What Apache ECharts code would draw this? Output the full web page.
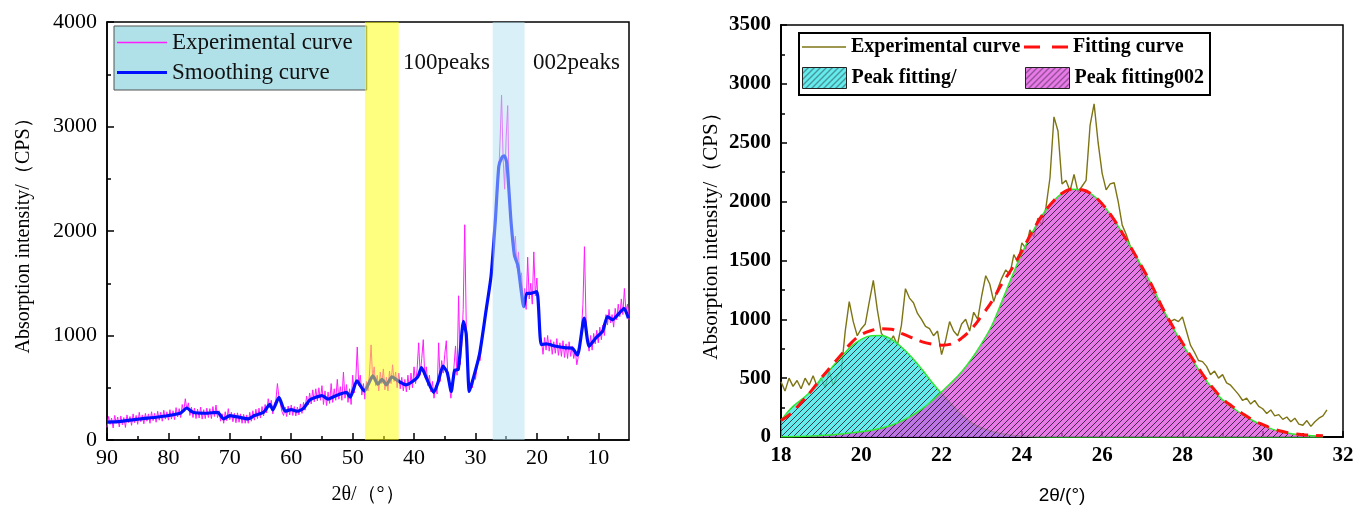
<!DOCTYPE html>
<html>
<head>
<meta charset="utf-8">
<script src="https://cdn.jsdelivr.net/npm/echarts@6/dist/echarts.min.js"></script>
<style>
  html, body { margin: 0; padding: 0; background: #fff; }
  #chart { width: 1367px; height: 510px; }
</style>
</head>
<body>
<div id="chart"></div>
<script>
// ---------- Left panel: full XRD scan (2θ from 90° down to 5°) ----------
// Experimental intensity, sampled every 0.25° starting at 90°
const scanStart = 90;
const scanStep = 0.25;
const scanValues = [
  120,225,150,210, 115,235,160,220, 125,230,145,215, 120,240,165,225, 140,250,165,235,
  150,265,175,240, 155,255,180,250, 160,270,185,255, 170,275,190,265, 180,285,200,270, 190,
  290,200,280,195, 310,220,300,215, 340,270,395,290, 355,235,315,215, 305,205,295,210,
  315,200,290,205, 305,215,300,205, 320,225,335,215, 280,180,250,160, 270,185,300,195,
  265,175,255,165, 260,170,250,160, 245,160,240,160, 265,180,280,190, 295,205,305,210,
  320,230,340,260, 395,310,380,250, 345,380,540,410, 395,270,235,315, 225,325,240,335,
  235,320,230,315, 240,345,255,360, 285,420,335,450, 345,480,365,490, 375,500,380,520,
  340,470,330,460, 350,540,360,490, 380,580,390,510, 380,650,400,530, 360,490,340,620,
  450,560,890,520, 620,430,540,390, 560,470,640,910, 590,700,520,620, 470,650,540,680,
  480,600,470,660, 540,720,560,650, 500,640,490,600, 470,580,460,620, 480,640,500,700,
  540,680,930,620, 780,960,600,700, 520,620,460,560, 400,520,440,930, 560,760,640,820,
  950,600,520,400, 560,700,900,620, 1380,720,900,1250, 2060,1100,780,460, 540,500,640,580,
  700,820,760,920, 1000,1180,1220,1380, 1420,1560,1700,1850, 2050,2300,2500,2850, 3300,2700,2400,2900,
  3200,2300,2150,1900, 1800,1950,1650,1800, 1500,1600,1300,1450, 1250,1750,1350,1500, 1300,1800,1380,1550,
  1250,1000,950,820, 980,860,1000,850, 960,820,940,830, 970,810,930,800, 950,790,920,780,
  940,800,900,780, 860,720,800,900, 1050,1300,1850,1150, 950,850,1000,860, 1020,920,1050,930,
  1080,960,1100,1000, 1200,1100,1250,1120, 1200,1080,1260,1150, 1300,1180,1350,1200, 1450,1230,1300,1150
];

// Smoothed intensity
const smoothX = [90,88,85,82,80,78,77,76,74,72,71,70,68,67,66,64.5,63.5,63,62,61,60,59,58,57,56,55,54,53,52,51,
  50.4,49.3,48.1,46.7,45.9,45.2,44.5,43.6,42.6,41.3,40.5,39.4,38.8,37.9,36.8,36.1,35.3,34.6,33.95,33.4,
  32.8,31.95,31.5,31.0,30.4,29.35,28.3,27.45,26.75,26.2,25.65,25.3,24.9,24.6,24.2,23.65,23.1,22.6,22.15,21.65,
  21.0,20.0,19.3,18.5,16.9,15.25,14.2,13.4,12.3,11.5,10.4,9.3,8.5,7.7,6.6,5.8,5.1];
const smoothY = [171,175,200,218,234,259,306,265,256,265,202,234,212,202,234,265,341,288,408,275,290,275,303,382,408,424,392,417,440,455,
  410,566,468,613,534,581,528,604,566,528,550,604,692,581,455,550,708,645,464,666,
  676,1135,1008,464,581,818,1229,1576,2114,2619,2708,2720,2651,2430,2083,1766,1671,1450,1276,1403,
  1403,1419,913,919,897,882,876,812,1166,897,976,1040,1182,1150,1213,1261,1166];

// Highlighted 2θ ranges
const band100 = [48, 42.5];
const band002 = [27.2, 22];
const leftMajorTicks = [10, 20, 30, 40, 50, 60, 70, 80, 90];
const leftMinorTicks = [15, 25, 35, 45, 55, 65, 75, 85];

// ---------- Right panel: peak fitting between 18° and 32° ----------
const measStart = 18;
const measStep = 0.1;
const measValues = [
  470,390,500,430,480,410,500,440,520,430,
  500,420,560,440,520,560,900,1150,980,860,
  920,960,1150,1330,1080,880,840,800,860,780,
  950,1260,1180,1140,1050,1000,940,920,860,900,
  700,820,980,900,860,960,1000,900,1060,1000,
  1200,1370,1300,1150,1260,1350,1420,1380,1550,1480,
  1650,1600,1760,1700,1860,1800,1950,2200,2720,2600,
  2150,2180,2090,2230,2080,2130,2180,2650,2830,2500,
  2240,2100,2150,2160,2000,1800,1720,1620,1560,1500,
  1380,1340,1250,1200,1140,1080,1020,980,1000,980,
  1020,900,780,720,650,640,600,530,560,500,
  530,460,440,400,360,310,330,280,310,260,
  240,200,230,180,190,150,170,130,160,110,
  100,140,90,130,160,180,230
];

const fitStart = 18;
const fitStep = 0.25;
const peak100 = [
  140,245,315,390, 495,585,680,770, 830,860,862,830, 765,680,580,470, 370,275,190,120,
  76,48,28,15, 8,4,2,0, 0,0,0,0, 0,0,0,0, 0,0,0,0, 0,0,0,0, 0,0,0,0, 0,0,0,0, 0,0,0
];
const peak002 = [
  2,3,5,8, 12,18,25,35, 45,58,75,100, 135,180,235,305, 385,465,555,665,
  795,945,1150,1360, 1560,1730,1880,1990, 2070,2105,2100,2060, 1980,1870,1735,1590, 1440,1280,1100,940,
  790,655,525,410, 315,250,190,140, 100,65,42,26, 16,10,6
];
const fitCurve = [
  140,200,290,390, 500,600,700,800, 870,905,920,915, 880,845,810,790, 780,790,840,920,
  1030,1150,1300,1430, 1580,1740,1880,1990, 2070,2105,2100,2060, 1980,1870,1735,1590, 1440,1280,1100,945,
  800,665,535,420, 325,258,198,145, 105,70,46,30, 20,14,10
];

const legendText = {
  'Measured curve': 'Experimental curve'
};

// ---------- helpers ----------
function sampled(start, step, values) {
  return values.map((v, i) => [+(start + i * step).toFixed(3), v]);
}
function paired(xs, ys) {
  return xs.map((x, i) => [x, ys[i]]);
}
function hatch(fill) {
  const s = 6;
  const c = document.createElement('canvas');
  c.width = s; c.height = s;
  const g = c.getContext('2d');
  g.fillStyle = fill;
  g.fillRect(0, 0, s, s);
  g.strokeStyle = 'rgba(30,20,40,0.8)';
  g.lineWidth = 1;
  g.beginPath();
  g.moveTo(0, s); g.lineTo(s, 0);
  g.moveTo(-1, 1); g.lineTo(1, -1);
  g.moveTo(s - 1, s + 1); g.lineTo(s + 1, s - 1);
  g.stroke();
  return c;
}

const cyanHatch = { image: hatch('rgba(40,228,228,0.72)'), repeat: 'repeat' };
const magentaHatch = { image: hatch('rgba(222,70,222,0.72)'), repeat: 'repeat' };

const serif = 'Liberation Serif, Times New Roman, serif';
const black = '#000';
const plain = v => String(v);

const leftAxisText = { fontFamily: serif, fontSize: 22, color: black, formatter: plain };
const rightAxisText = { fontFamily: serif, fontSize: 21, fontWeight: 'bold', color: black, formatter: plain };
const rightLegendText = { fontFamily: serif, fontSize: 20, fontWeight: 'bold', color: black };

// legend glyphs: plain strokes drawn as thin filled bars
const thinBar = 'path://M0,0H50V1.6H0Z';
const thickBar = 'path://M0,0H50V3.2H0Z';
const oliveBar = 'path://M0,0H42V1.5H0Z';
const dashBar = 'path://M0,0H16V3H0Z M28,0H44V3H28Z';

// one legend entry of the right-hand key
function keyEntry(item, left, top, height) {
  return {
    data: [item], orient: 'horizontal', left, top, selectedMode: false,
    itemWidth: 44, itemHeight: height, padding: 0,
    formatter: n => legendText[n] || n,
    textStyle: rightLegendText
  };
}

const chart = echarts.init(document.getElementById('chart'), null, { renderer: 'canvas' });

chart.setOption({
  animation: false,
  backgroundColor: '#fff',
  grid: [
    { left: 107, top: 22, width: 522, height: 421, show: true, borderColor: black, borderWidth: 1.5, backgroundColor: 'transparent' },
    { left: 781, top: 25, width: 562, height: 414, show: true, borderColor: black, borderWidth: 1.5, backgroundColor: 'transparent' }
  ],
  xAxis: [
    {
      gridIndex: 0, type: 'value', min: 5, max: 90, inverse: true, position: 'bottom',
      axisLine: { onZero: false, lineStyle: { color: black, width: 1.5 } },
      axisTick: { inside: true, length: 7, customValues: leftMajorTicks, lineStyle: { color: black, width: 1.5 } },
      axisLabel: { customValues: leftMajorTicks, margin: 7, ...leftAxisText },
      splitLine: { show: false },
      name: '2θ/（°）', nameLocation: 'middle', nameGap: 45,
      nameTextStyle: { fontFamily: serif, fontSize: 20, color: black }
    },
    {
      gridIndex: 0, type: 'value', min: 5, max: 90, inverse: true, position: 'bottom',
      axisLine: { show: false },
      axisTick: { inside: true, length: 4, customValues: leftMinorTicks, lineStyle: { color: black, width: 1.5 } },
      axisLabel: { show: false },
      splitLine: { show: false }
    },
    {
      gridIndex: 1, type: 'value', min: 18, max: 32, interval: 2, position: 'bottom',
      axisLine: { onZero: false, lineStyle: { color: black, width: 2 } },
      axisTick: { inside: true, length: 6, lineStyle: { color: black, width: 1.5 } },
      minorTick: { show: true, splitNumber: 2, length: 4, lineStyle: { color: black, width: 1.5 } },
      axisLabel: { margin: 8, ...rightAxisText },
      splitLine: { show: false },
      name: '2θ/(°)', nameLocation: 'middle', nameGap: 49,
      nameTextStyle: { fontFamily: 'Liberation Sans, Arial, sans-serif', fontSize: 19, color: black }
    }
  ],
  yAxis: [
    {
      gridIndex: 0, type: 'value', min: 0, max: 4000, interval: 1000,
      axisLine: { show: true, lineStyle: { color: black, width: 1.5 } },
      axisTick: { show: true, inside: true, length: 7, lineStyle: { color: black, width: 1.5 } },
      minorTick: { show: true, splitNumber: 2, length: 4, lineStyle: { color: black, width: 1.5 } },
      axisLabel: { margin: 10, ...leftAxisText },
      splitLine: { show: false },
      name: 'Absorption intensity/（CPS）', nameLocation: 'middle', nameGap: 73,
      nameTextStyle: { fontFamily: serif, fontSize: 20, color: black }
    },
    {
      gridIndex: 1, type: 'value', min: 0, max: 3500, interval: 500,
      axisLine: { show: true, lineStyle: { color: black, width: 2 } },
      axisTick: { show: true, inside: true, length: 6, lineStyle: { color: black, width: 1.5 } },
      minorTick: { show: true, splitNumber: 2, length: 4, lineStyle: { color: black, width: 1.5 } },
      axisLabel: { margin: 10, ...rightAxisText },
      splitLine: { show: false },
      name: 'Absorption intensity/（CPS）', nameLocation: 'middle', nameGap: 59,
      nameTextStyle: { fontFamily: serif, fontSize: 21, color: black }
    }
  ],
  legend: [
    {
      data: [
        { name: 'Experimental curve', icon: thinBar },
        { name: 'Smoothing curve', icon: thickBar }
      ],
      orient: 'vertical', left: 114, top: 26, selectedMode: false,
      itemWidth: 50, itemHeight: 14, itemGap: 7,
      padding: [5, 14, 6, 3],
      backgroundColor: '#b0e0e8', borderColor: '#555', borderWidth: 1,
      textStyle: { fontFamily: serif, fontSize: 23, color: '#111' }
    },
    keyEntry({ name: 'Measured curve', icon: oliveBar }, 802, 37, 14),
    keyEntry({ name: 'Fitting curve', icon: dashBar }, 1024, 37, 14),
    keyEntry({ name: 'Peak fitting/', icon: 'rect', itemStyle: { color: cyanHatch, borderColor: '#222', borderWidth: 1 } }, 802, 67, 21),
    keyEntry({ name: 'Peak fitting002', icon: 'rect', itemStyle: { color: magentaHatch, borderColor: '#222', borderWidth: 1 } }, 1025, 67, 21)
  ],
  graphic: [
    { id: 'lbl100', type: 'text', left: 403, top: 51, z: 20, style: { text: '100peaks', font: '23px ' + serif, fill: '#111' } },
    { id: 'lbl002', type: 'text', left: 533, top: 51, z: 20, style: { text: '002peaks', font: '23px ' + serif, fill: '#111' } },
    { id: 'legendBox', type: 'rect', left: 798, top: 32, z: 3, shape: { width: 411, height: 62 },
      style: { fill: '#fff', stroke: black, lineWidth: 2 } }
  ],
  series: [
    {
      name: 'Experimental curve', type: 'line', xAxisIndex: 0, yAxisIndex: 0, z: 2,
      data: sampled(scanStart, -scanStep, scanValues),
      symbol: 'none', lineStyle: { color: '#ff1cff', width: 1 }, itemStyle: { color: '#ff1cff' }
    },
    {
      name: 'Smoothing curve', type: 'line', xAxisIndex: 0, yAxisIndex: 0, z: 3,
      data: paired(smoothX, smoothY), smooth: 0.2,
      symbol: 'none', lineStyle: { color: '#0010ff', width: 3.2 }, itemStyle: { color: '#0010ff' }
    },
    {
      name: 'Measured curve', type: 'line', xAxisIndex: 2, yAxisIndex: 1, z: 2,
      data: sampled(measStart, measStep, measValues),
      symbol: 'none', lineStyle: { color: '#7d7414', width: 1.4 }, itemStyle: { color: '#7d7414' }
    },
    {
      name: 'Peak fitting/', type: 'line', xAxisIndex: 2, yAxisIndex: 1, z: 3,
      data: sampled(fitStart, fitStep, peak100), smooth: 0.4,
      symbol: 'none', lineStyle: { color: '#30ea30', width: 1.5 }, itemStyle: { color: '#30ea30' },
      areaStyle: { color: cyanHatch, opacity: 1 }
    },
    {
      name: 'Peak fitting002', type: 'line', xAxisIndex: 2, yAxisIndex: 1, z: 4,
      data: sampled(fitStart, fitStep, peak002), smooth: 0.4,
      symbol: 'none', lineStyle: { color: '#30ea30', width: 1.5 }, itemStyle: { color: '#30ea30' },
      areaStyle: { color: magentaHatch, opacity: 1 }
    },
    {
      name: 'Fitting curve', type: 'line', xAxisIndex: 2, yAxisIndex: 1, z: 5,
      data: sampled(fitStart, fitStep, fitCurve), smooth: 0.4,
      symbol: 'none', lineStyle: { color: '#ff1010', width: 3, type: [12, 8] }, itemStyle: { color: '#ff1010' }
    }
  ]
});

// Translucent highlight bands laid over the left plot, placed through the axis scales
function bandRect(id, range, fill) {
  const xa = chart.convertToPixel({ xAxisIndex: 0 }, range[0]);
  const xb = chart.convertToPixel({ xAxisIndex: 0 }, range[1]);
  const yTop = chart.convertToPixel({ yAxisIndex: 0 }, 4000);
  const yBot = chart.convertToPixel({ yAxisIndex: 0 }, 0);
  return {
    id, type: 'rect', z: 10, silent: true,
    shape: { x: Math.min(xa, xb), y: yTop, width: Math.abs(xb - xa), height: yBot - yTop },
    style: { fill }
  };
}
chart.setOption({
  graphic: [
    bandRect('band100', band100, 'rgba(255,255,0,0.5)'),
    bandRect('band002', band002, 'rgba(180,225,242,0.5)')
  ]
});
</script>
</body>
</html>
